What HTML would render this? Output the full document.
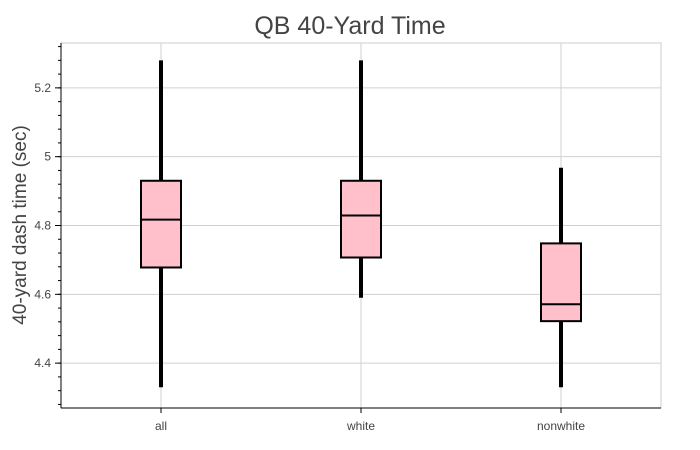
<!DOCTYPE html>
<html><head><meta charset="utf-8"><style>
html,body{margin:0;padding:0;background:#fff;width:700px;height:450px;overflow:hidden}
svg{display:block;font-family:"Liberation Sans",sans-serif}
</style></head><body>
<svg id="chart" width="700" height="450"></svg>
<script>
const categories = ["all","white","nonwhite"];
const lowers = [4.33, 4.59, 4.33];
const q1s = [4.678, 4.707, 4.522];
const medians = [4.817, 4.829, 4.571];
const q3s = [4.930, 4.930, 4.748];
const uppers = [5.28, 5.28, 4.968];
const yTicks = [4.4, 4.6, 4.8, 5, 5.2];

const L=61,R=661,T=43,B=408,yMin=4.2696,yMax=5.3304;
const y=v=>B-(v-yMin)/(yMax-yMin)*(B-T);
const band=(R-L)/categories.length;
const x=i=>L+band*(i+0.5);
const NS="http://www.w3.org/2000/svg";
const svg=document.getElementById('chart');
function mk(tag,attrs,parent){const e=document.createElementNS(NS,tag);for(const k in attrs)e.setAttribute(k,attrs[k]);(parent||svg).appendChild(e);return e;}

const frame=mk('rect',{x:L,y:T,width:R-L,height:B-T,fill:'none',stroke:'#ccc','stroke-width':1});



yTicks.forEach(t=>{
  const g=mk('line',{x1:L,x2:R,y1:y(t),y2:y(t),stroke:'#d0d0d0','stroke-width':1});
  
  
  const tk=mk('line',{x1:L-6,x2:L,y1:y(t),y2:y(t),stroke:'#000','stroke-width':1});
  
  
  const lb=mk('text',{x:L-10,y:y(t)+4,'text-anchor':'end','font-size':12,fill:'#444'});
  lb.textContent=String(t);
  
  
});
for(let v=4.28;v<5.33;v+=0.04){
  const m=mk('line',{x1:L-3,x2:L,y1:y(v),y2:y(v),stroke:'#000','stroke-width':1});
  
  
}
categories.forEach((c,i)=>{
  const g=mk('line',{x1:x(i),x2:x(i),y1:T,y2:B,stroke:'#d0d0d0','stroke-width':1});
  
  
  const tk=mk('line',{x1:x(i),x2:x(i),y1:B,y2:B+5,stroke:'#000','stroke-width':1});
  
  
  const lb=mk('text',{x:x(i),y:B+22,'text-anchor':'middle','font-size':12,fill:'#444'});
  lb.textContent=c;
  
  
});
const ax=mk('line',{x1:L,x2:L,y1:T,y2:B,stroke:'#000','stroke-width':1});


const bx=mk('line',{x1:L,x2:R,y1:B,y2:B,stroke:'#000','stroke-width':1});



categories.forEach((c,i)=>{
  const w=mk('line',{x1:x(i),x2:x(i),y1:y(lowers[i]),y2:y(uppers[i]),stroke:'#000','stroke-width':4});
  
  
  const b=mk('rect',{x:x(i)-20,y:y(q3s[i]),width:40,height:y(q1s[i])-y(q3s[i]),fill:'pink',stroke:'#000','stroke-width':2});
  
  
  const m=mk('line',{x1:x(i)-20,x2:x(i)+20,y1:y(medians[i]),y2:y(medians[i]),stroke:'#000','stroke-width':2});
  
  
});

const title=mk('text',{x:350,y:34,'text-anchor':'middle','font-size':25,fill:'#444'});
title.textContent='QB 40-Yard Time';


const yt=mk('text',{x:0,y:0,'text-anchor':'middle','font-size':19,fill:'#444',transform:'translate(26,225) rotate(-90)'});
yt.textContent='40-yard dash time (sec)';


</script>
</body></html>
